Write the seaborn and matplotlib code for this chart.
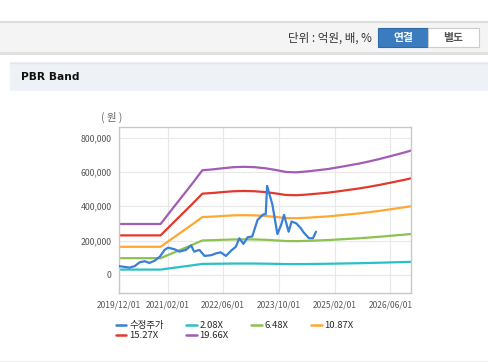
import matplotlib
matplotlib.use("Agg")
import matplotlib.pyplot as plt
import matplotlib.dates as mdates
from matplotlib.patches import Rectangle
from matplotlib.ticker import FuncFormatter
import seaborn as sns
import pandas as pd

# --- data ---
price_dates = [
    "2019-12-01", "2020-01-20", "2020-03-05", "2020-04-20", "2020-06-01", "2020-07-15",
    "2020-08-25", "2020-10-10", "2020-11-25", "2021-01-05", "2021-02-05", "2021-04-01",
    "2021-05-15", "2021-07-10", "2021-08-25", "2021-09-20", "2021-11-05", "2021-12-20",
    "2022-02-15", "2022-04-01", "2022-05-10", "2022-06-25", "2022-08-10", "2022-09-20",
    "2022-10-20", "2022-11-25", "2023-01-01", "2023-02-10", "2023-03-28", "2023-05-15",
    "2023-06-08", "2023-06-20", "2023-08-05", "2023-09-18", "2023-10-20", "2023-11-15",
    "2023-12-25", "2024-01-20", "2024-03-01", "2024-04-10", "2024-05-05", "2024-06-20",
    "2024-07-25", "2024-08-20",
]
price = [
    52000, 47000, 43000, 52000, 74000, 80000,
    70000, 83000, 107000, 146000, 159000, 150000,
    136000, 146000, 172000, 136000, 146000, 111000,
    115000, 126000, 132000, 111000, 142000, 165000,
    214000, 181000, 220000, 224000, 320000, 352000,
    355000, 519000, 410000, 238000, 291000, 350000,
    252000, 311000, 301000, 272000, 247000, 214000,
    214000, 252000,
]

band_dates = pd.date_range("2019-12-01", "2026-12-01", freq="3MS")
bps = [15107, 15107, 15107, 15107, 15107, 19023, 22991, 26958, 31028, 31282,
       31638, 31943, 32045, 31943, 31638, 31129, 30519, 30417, 30671, 31028,
       31384, 31892, 32452, 33011, 33672, 34385, 35198, 36012, 36877]
multiples = [2.08, 6.48, 10.87, 15.27, 19.66]
band_labels = ["2.08X", "6.48X", "10.87X", "15.27X", "19.66X"]

series_order = ["수정주가"] + band_labels
colors = ["#3a7fd5", "#2bc0c8", "#8dc152", "#ffa733", "#e2392f", "#a15cb5"]

x_ticks = ["2019-12-01", "2021-02-01", "2022-06-01", "2023-10-01", "2025-02-01", "2026-06-01"]
y_ticks = [0, 200000, 400000, 600000, 800000]

# long table for seaborn
frames = [pd.DataFrame({"date": pd.to_datetime(price_dates), "value": price, "series": "수정주가"})]
for m, lab in zip(multiples, band_labels):
    frames.append(pd.DataFrame({"date": band_dates, "value": [b * m for b in bps], "series": lab}))
df = pd.concat(frames, ignore_index=True)

sns.set_style("white")
plt.rcParams["font.family"] = ["Noto Sans CJK KR", "DejaVu Sans"]

fig = plt.figure(figsize=(4.88, 3.62), dpi=100)

# page chrome drawn in pixel coords
bg = fig.add_axes([0, 0, 1, 1])
bg.set_xlim(0, 488)
bg.set_ylim(362, 0)
bg.axis("off")
bg.add_patch(Rectangle((0, 21), 488, 31, fc="#f4f4f4", ec="none"))
bg.plot([0, 488], [21.5, 21.5], color="#dcdcdc", lw=1.5)
bg.add_patch(Rectangle((0, 52), 488, 2.5, fc="#e0e0e0", ec="none"))
bg.text(372, 38, "단위 : 억원, 배, %", ha="right", va="center", fontsize=8.3, color="#333333")
bg.add_patch(Rectangle((378, 28), 50, 19, fc="#3b7cc0", ec="#2f6aa8", lw=0.8))
bg.text(403, 37.5, "연결", ha="center", va="center", fontsize=7.8, color="white", fontweight="bold")
bg.add_patch(Rectangle((428, 28), 51, 19, fc="white", ec="#cccccc", lw=0.8))
bg.text(453.5, 37.5, "별도", ha="center", va="center", fontsize=7.8, color="#555555", fontweight="bold")
bg.add_patch(Rectangle((10, 62), 478, 29, fc="#eef1f6", ec="none"))
bg.plot([10, 488], [62.5, 62.5], color="#e2e5ea", lw=1)
bg.text(21, 77, "PBR Band", ha="left", va="center", fontsize=7.7, fontweight="bold",
        color="#111111", family="DejaVu Sans")
bg.plot([0, 488], [360.5, 360.5], color="#eeeeee", lw=1)
bg.text(112, 117, "( 원 )", ha="center", va="center", fontsize=7.5, color="#666666")

# main chart
ax = fig.add_axes([118.7 / 488, 1 - 293 / 362, 292.6 / 488, 166 / 362])
sns.lineplot(data=df, x="date", y="value", hue="series", hue_order=series_order,
             palette=dict(zip(series_order, colors)), estimator=None, sort=True,
             lw=1.6, ax=ax, legend=False)
ax.lines[0].set_zorder(5)

ax.set_xlim(pd.Timestamp("2019-12-01"), pd.Timestamp("2026-12-01"))
ax.set_ylim(-105000, 862000)
ax.set_xticks(pd.to_datetime(x_ticks))
ax.xaxis.set_major_formatter(mdates.DateFormatter("%Y/%m/%d"))
ax.set_yticks(y_ticks)
ax.yaxis.set_major_formatter(FuncFormatter(lambda v, p: f"{int(v):,}"))
ax.set_xlabel("")
ax.set_ylabel("")
ax.grid(True, color="#e8e8e8", lw=0.8)
ax.set_axisbelow(True)
for s in ax.spines.values():
    s.set_color("#c8c8c8")
    s.set_linewidth(1)
ax.tick_params(axis="both", length=3.5, width=0.8, color="#c0c0c0", labelsize=6.3,
               labelcolor="#555555", pad=1.5)
ax.tick_params(axis="x", labelsize=6.1, pad=2)

# legend, filled row by row like the reference (matplotlib fills by column)
handles = {lab: plt.Line2D([], [], color=c, lw=1.8) for lab, c in zip(series_order, colors)}
leg_order = ["수정주가", "15.27X", "2.08X", "19.66X", "6.48X", "10.87X"]
ax.legend([handles[k] for k in leg_order], leg_order, loc="upper left",
          bbox_to_anchor=(116 / 488, 1 - 321 / 362), bbox_transform=fig.transFigure,
          ncol=4, frameon=False, fontsize=6.8, handlelength=1.1, handletextpad=0.3,
          columnspacing=2.4, labelspacing=0.15, borderpad=0, borderaxespad=0)

fig.savefig("out.png", dpi=100)
